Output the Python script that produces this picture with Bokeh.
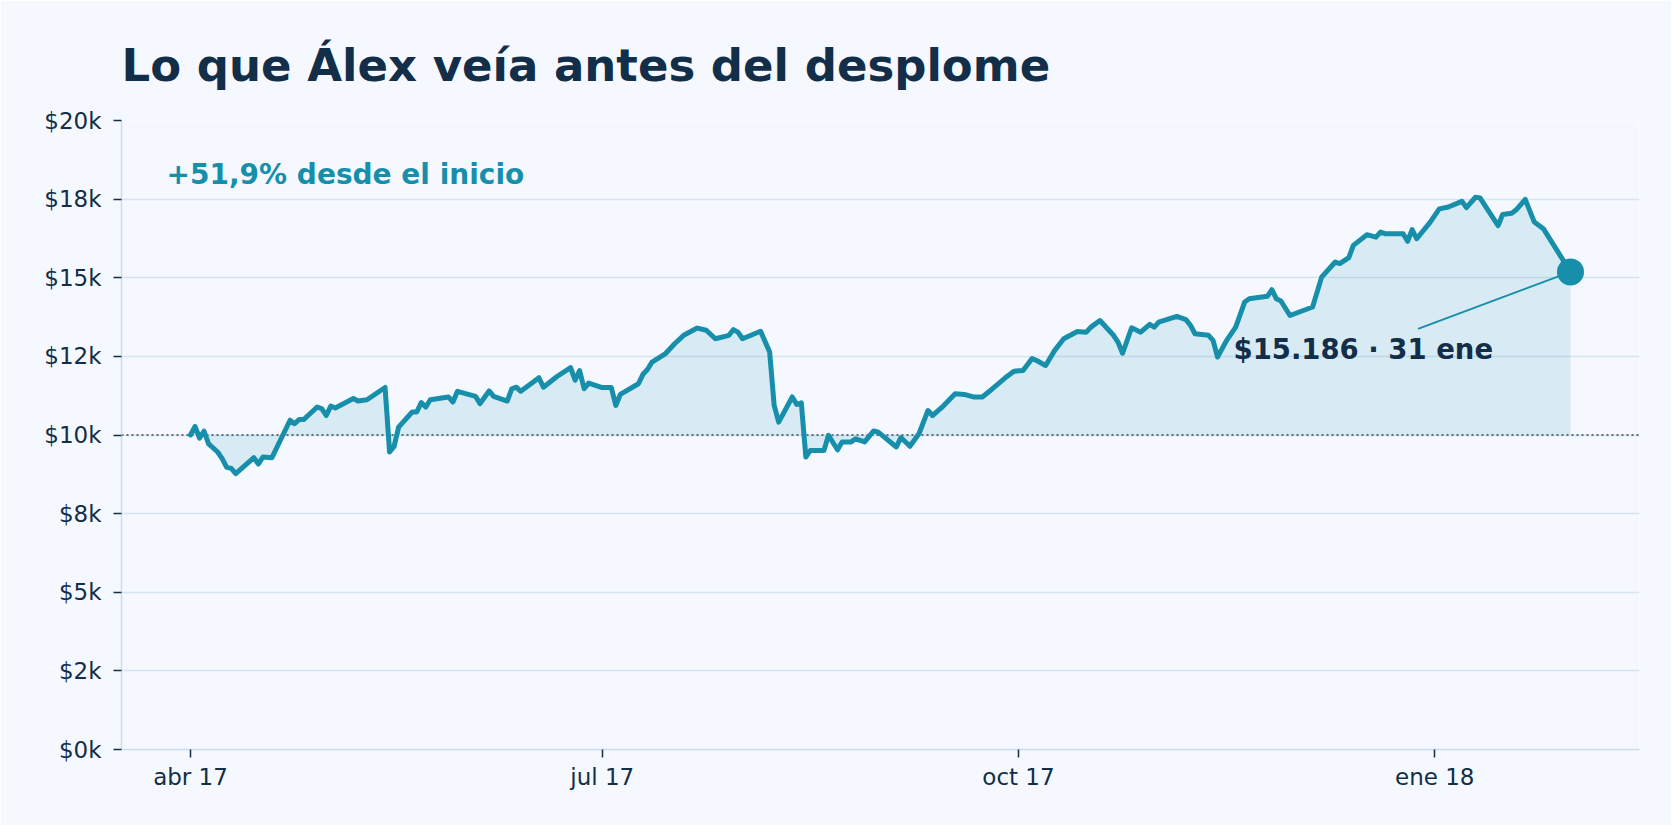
import pandas as pd
from bokeh.core.properties import value
from bokeh.embed import file_html
from bokeh.models import ColumnDataSource, FixedTicker, Label, Range1d, Span
from bokeh.plotting import figure
from bokeh.resources import INLINE

# Valor de la cartera (USD)
dates = [
    "2017-04-01", "2017-04-02", "2017-04-03", "2017-04-04", "2017-04-05", "2017-04-07",
    "2017-04-08", "2017-04-09", "2017-04-10", "2017-04-11", "2017-04-15", "2017-04-16",
    "2017-04-17", "2017-04-19", "2017-04-23", "2017-04-24", "2017-04-25", "2017-04-26",
    "2017-04-29", "2017-04-30", "2017-05-01", "2017-05-02", "2017-05-03", "2017-05-07",
    "2017-05-08", "2017-05-10", "2017-05-14", "2017-05-15", "2017-05-16", "2017-05-17",
    "2017-05-20", "2017-05-21", "2017-05-22", "2017-05-23", "2017-05-24", "2017-05-28",
    "2017-05-29", "2017-05-30", "2017-06-03", "2017-06-04", "2017-06-06", "2017-06-07",
    "2017-06-10", "2017-06-11", "2017-06-12", "2017-06-13", "2017-06-17", "2017-06-18",
    "2017-06-21", "2017-06-24", "2017-06-25", "2017-06-26", "2017-06-27", "2017-06-28",
    "2017-07-01", "2017-07-03", "2017-07-04", "2017-07-05", "2017-07-09", "2017-07-10",
    "2017-07-11", "2017-07-12", "2017-07-15", "2017-07-17", "2017-07-19", "2017-07-22",
    "2017-07-24", "2017-07-26", "2017-07-29", "2017-07-30", "2017-07-31", "2017-08-01",
    "2017-08-05", "2017-08-07", "2017-08-08", "2017-08-09", "2017-08-12", "2017-08-13",
    "2017-08-14", "2017-08-15", "2017-08-16", "2017-08-19", "2017-08-20", "2017-08-22",
    "2017-08-23", "2017-08-25", "2017-08-26", "2017-08-28", "2017-08-30", "2017-08-31",
    "2017-09-04", "2017-09-05", "2017-09-07", "2017-09-09", "2017-09-11", "2017-09-12",
    "2017-09-14", "2017-09-17", "2017-09-19", "2017-09-21", "2017-09-23", "2017-09-25",
    "2017-09-28", "2017-09-30", "2017-10-02", "2017-10-04", "2017-10-05", "2017-10-07",
    "2017-10-09", "2017-10-11", "2017-10-14", "2017-10-16", "2017-10-17", "2017-10-19",
    "2017-10-22", "2017-10-23", "2017-10-24", "2017-10-26", "2017-10-28", "2017-10-30",
    "2017-10-31", "2017-11-01", "2017-11-05", "2017-11-07", "2017-11-08", "2017-11-09",
    "2017-11-12", "2017-11-13", "2017-11-14", "2017-11-16", "2017-11-18", "2017-11-20",
    "2017-11-21", "2017-11-25", "2017-11-26", "2017-11-27", "2017-11-28", "2017-11-30",
    "2017-12-05", "2017-12-07", "2017-12-10", "2017-12-11", "2017-12-13", "2017-12-14",
    "2017-12-17", "2017-12-19", "2017-12-20", "2017-12-21", "2017-12-25", "2017-12-26",
    "2017-12-27", "2017-12-28", "2017-12-31", "2018-01-02", "2018-01-04", "2018-01-07",
    "2018-01-08", "2018-01-10", "2018-01-11", "2018-01-15", "2018-01-16", "2018-01-18",
    "2018-01-19", "2018-01-21", "2018-01-23", "2018-01-25", "2018-01-31",
]
balance = [
    10000, 10270, 9900, 10120, 9720, 9460,
    9250, 8970, 8940, 8770, 9280, 9080,
    9300, 9280, 10470, 10360, 10490, 10490,
    10890, 10840, 10620, 10920, 10860, 11160,
    11080, 11120, 11510, 9460, 9640, 10250,
    10730, 10730, 11030, 10890, 11120, 11210,
    11050, 11390, 11230, 11000, 11400, 11230,
    11080, 11470, 11520, 11390, 11820, 11520,
    11860, 12140, 11740, 12050, 11470, 11650,
    11510, 11510, 10940, 11290, 11630, 11930,
    12080, 12320, 12590, 12900, 13170, 13400,
    13330, 13060, 13170, 13350, 13270, 13060,
    13300, 12640, 10940, 10410, 11210, 10970,
    11020, 9300, 9510, 9510, 9990, 9530,
    9780, 9780, 9880, 9780, 10130, 10090,
    9620, 9920, 9640, 10040, 10780, 10620,
    10870, 11310, 11290, 11210, 11210, 11440,
    11810, 12030, 12050, 12430, 12370, 12210,
    12690, 13060, 13290, 13270, 13430, 13640,
    13170, 12950, 12600, 13410, 13270, 13520,
    13430, 13590, 13770, 13670, 13490, 13220,
    13170, 13010, 12480, 13010, 13430, 14230,
    14330, 14410, 14620, 14330, 14260, 13800,
    14070, 15020, 15500, 15450, 15640, 16030,
    16370, 16290, 16450, 16400, 16400, 16160,
    16530, 16240, 16770, 17190, 17250, 17430,
    17230, 17560, 17540, 16660, 17010, 17050,
    17160, 17490, 16770, 16560, 15186,
]
start_value = 10000

x_tick_dates = ["2017-04-01", "2017-07-01", "2017-10-01", "2018-01-01"]
x_tick_labels = ["abr 17", "jul 17", "oct 17", "ene 18"]
y_ticks = [0, 2500, 5000, 7500, 10000, 12500, 15000, 17500, 20000]
y_tick_labels = ["$0k", "$2k", "$5k", "$8k", "$10k", "$12k", "$15k", "$18k", "$20k"]

BG = "#f5f9ff"
TEAL = "#178fab"
NAVY = "#132e48"
GRID = "#d5e4ee"
AXIS = "#c9dce7"
FONT = "DejaVu Sans"


def to_ms(ts):
    return (pd.Timestamp(ts) - pd.Timestamp("1970-01-01")) // pd.Timedelta(milliseconds=1)


df = pd.DataFrame({"date": pd.to_datetime(dates), "value": balance})
df["base"] = start_value
source = ColumnDataSource(df)

first_date = df["date"].iloc[0]
last_date = df["date"].iloc[-1]
last_value = df["value"].iloc[-1]
pad = (last_date - first_date) * 0.05

p = figure(
    width=1671,
    height=825,
    x_axis_type="datetime",
    x_range=Range1d(first_date - pad, last_date + pad),
    y_range=Range1d(0, 20000),
    output_backend="svg",
    toolbar_location=None,
    background_fill_color=BG,
    border_fill_color=BG,
    outline_line_color=None,
    min_border_left=121,
    min_border_right=32,
    min_border_top=120,
    min_border_bottom=76,
)

p.title.text = "Lo que Álex veía antes del desplome"
p.title.text_font = FONT
p.title.text_font_size = "45px"
p.title.text_font_style = "bold"
p.title.text_color = NAVY
p.title.align = "left"
p.title.offset = 0
p.title.standoff = 58

# Área entre la curva y el valor inicial
p.varea(x="date", y1="base", y2="value", source=source, fill_color=TEAL, fill_alpha=0.13)

baseline = Span(location=start_value, dimension="width", line_color="#5d6d7b",
                line_dash="2 3", line_width=2.2, level="underlay")
p.add_layout(baseline)

p.line(x="date", y="value", source=source, line_color=TEAL, line_width=5,
       line_join="round", line_cap="round")

# Línea guía hacia el último punto
p.segment(x0=[last_date - pd.Timedelta(days=33.7)], y0=[last_value - 1812],
          x1=[last_date], y1=[last_value], line_color=TEAL, line_width=2)
p.scatter(x=[last_date], y=[last_value], size=27, fill_color=TEAL, line_color=None)

end_text = "$" + f"{last_value:,.0f}".replace(",", ".") + " · " + f"{last_date.day} ene"
p.add_layout(Label(
    x=to_ms(last_date), y=last_value, x_offset=-337, y_offset=-77,
    text=end_text, text_font=FONT, text_font_size="27.5px", text_font_style="bold",
    text_color=NAVY, text_baseline="alphabetic",
))

change = (last_value / start_value - 1) * 100
gain_text = f"+{change:.1f}% desde el inicio".replace(".", ",")
p.add_layout(Label(
    x=to_ms(first_date), y=18000, x_offset=-24, y_offset=9,
    text=gain_text, text_font=FONT, text_font_size="28px", text_font_style="bold",
    text_color=TEAL, text_baseline="alphabetic",
))

x_ticks = [to_ms(d) for d in x_tick_dates]
p.xaxis.ticker = FixedTicker(ticks=x_ticks)
p.xaxis.major_label_overrides = dict(zip(x_ticks, x_tick_labels))
p.yaxis.ticker = FixedTicker(ticks=y_ticks)
p.yaxis.major_label_overrides = dict(zip(y_ticks, y_tick_labels))

for axis in (p.xaxis, p.yaxis):
    axis.axis_line_color = AXIS
    axis.axis_line_width = 1.5
    axis.major_tick_line_color = NAVY
    axis.major_tick_line_width = 1.5
    axis.major_tick_out = 8
    axis.major_tick_in = 0
    axis.minor_tick_line_color = None
    axis.major_label_text_font = FONT
    axis.major_label_text_font_size = "23px"
    axis.major_label_text_color = NAVY
p.xaxis.major_label_standoff = 6
p.yaxis.major_label_standoff = 12

p.xgrid.visible = False
p.ygrid.grid_line_color = GRID
p.ygrid.grid_line_width = 1.5

open("out.html", "w").write(file_html(p, INLINE))
